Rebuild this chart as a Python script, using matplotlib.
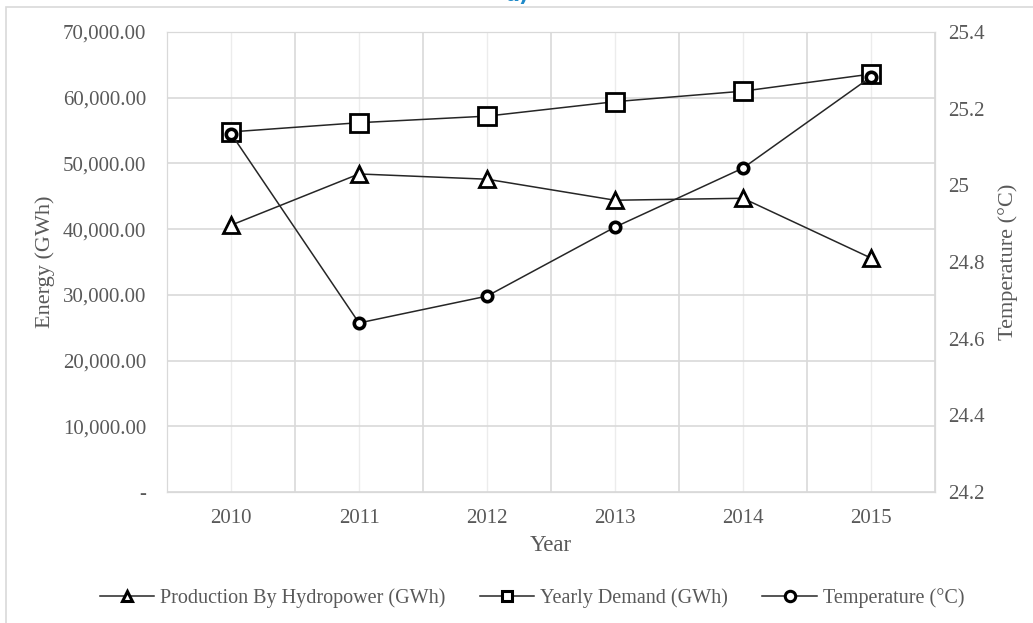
import matplotlib.pyplot as plt
from matplotlib.patches import Rectangle
from matplotlib.ticker import FuncFormatter

years = ['2010', '2011', '2012', '2013', '2014', '2015']
hydro = [40600, 48400, 47600, 44400, 44700, 35600]
demand = [54800, 56200, 57200, 59400, 61000, 63600]
temperature = [25.135, 24.641, 24.711, 24.891, 25.045, 25.283]

plt.rcParams['font.family'] = ['Liberation Serif', 'DejaVu Serif']
txt = '#595959'
grid = '#d9d9d9'

fig = plt.figure(figsize=(10.33, 6.23), dpi=100)
ax = fig.add_axes([0.1617, 0.2103, 0.7434, 0.7383])
ax2 = ax.twinx()

x = list(range(len(years)))

# category boundaries and centres as grid lines
for b in [i - 0.5 for i in range(len(years) + 1)]:
    ax.axvline(b, color=grid, lw=1.2, zorder=0)
for c in x:
    ax.axvline(c, color='#ececec', lw=1.0, zorder=0)

ax.set_xlim(-0.5, len(years) - 0.5)
ax.set_ylim(0, 70000)
ax.set_yticks(range(0, 70001, 10000))
ax.yaxis.set_major_formatter(FuncFormatter(lambda v, p: '-' if v == 0 else f'{v:,.2f}'))
ax.grid(axis='y', color=grid, lw=1.2)
ax.set_axisbelow(True)
ax.set_xticks(x)
ax.set_xticklabels(years)

ax2.set_ylim(24.2, 25.4)
ax2.set_yticks([24.2, 24.4, 24.6, 24.8, 25.0, 25.2, 25.4])
ax2.yaxis.set_major_formatter(FuncFormatter(lambda v, p: f'{v:g}'))

for a in (ax, ax2):
    for s in a.spines.values():
        s.set_color(grid)
    a.tick_params(length=0, labelsize=15, colors=txt)
ax.tick_params(axis='y', pad=15)
ax.tick_params(axis='x', pad=12)
ax2.tick_params(axis='y', pad=9.5)

ax.set_xlabel('Year', fontsize=16.5, color=txt)
ax.xaxis.set_label_coords(0.5, -0.093)
ax.set_ylabel('Energy (GWh)', fontsize=16, color=txt)
ax.yaxis.set_label_coords(-0.146, 0.5)
ax2.set_ylabel('Temperature (°C)', fontsize=16, color=txt)
ax2.yaxis.set_label_coords(1.082, 0.5)

l1, = ax.plot(x, hydro, color='#262626', lw=1.1, marker='^', ms=11,
              mfc='white', mec='black', mew=2, zorder=3,
              label='Production By Hydropower (GWh)')
l2, = ax.plot(x, demand, color='#262626', lw=1.1, marker='s', ms=13,
              mfc='white', mec='black', mew=2, zorder=3,
              label='Yearly Demand (GWh)')
l3, = ax2.plot(x, temperature, color='#262626', lw=1.1, marker='o', ms=7.5,
               mfc='white', mec='black', mew=2.6, zorder=4,
               label='Temperature (°C)')

leg = fig.legend(handles=[l1, l2, l3], loc='center', bbox_to_anchor=(0.515, 0.04),
                 ncol=3, frameon=False, fontsize=14.5, handlelength=2.7,
                 columnspacing=1.7, handletextpad=0.3)
for t in leg.get_texts():
    t.set_color(txt)
for h in leg.legend_handles:
    h.set_markersize(7.5)
    h.set_markeredgewidth(2.2)

fig.patches.append(Rectangle((0.006, -0.01), 1.0, 0.999, transform=fig.transFigure,
                             fill=False, edgecolor='#d9d9d9', lw=1.2))
fig.text(0.5, 1.008, 'a)', ha='center', va='center', fontsize=15,
         fontweight='bold', color='#1f8ac9', family='DejaVu Sans')

fig.savefig('out.png', dpi=100)
